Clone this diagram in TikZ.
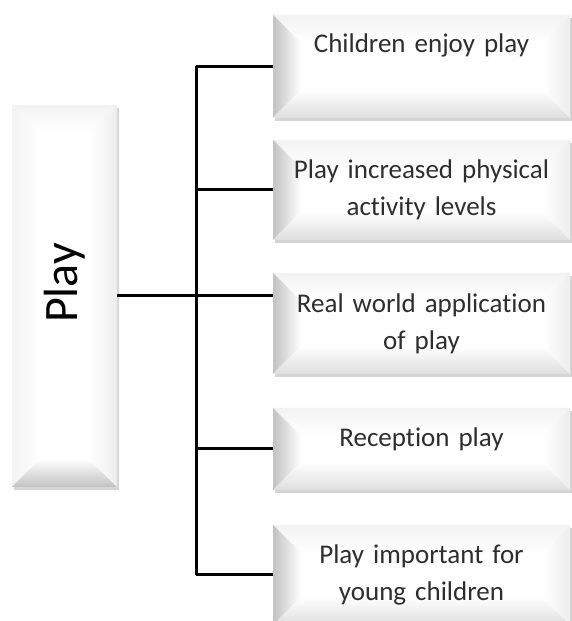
\documentclass[tikz,border=0pt]{standalone}
\usepackage{fontspec}
\setmainfont{Carlito}[Ligatures=NoCommon]
\usetikzlibrary{calc,shadows}

\newcommand\bevw{28pt}

\tikzset{
	bevel/.style n args={2}{fill=white, draw=none,
		drop shadow={shadow xshift=1.5pt, shadow yshift=-3pt, fill=black!30, opacity=.55},
		path picture={
			\path (path picture bounding box.south west) coordinate (pSW)
				(path picture bounding box.north east) coordinate (pNE);
			\shade[top color=black!5, bottom color=white] (pSW|-pNE) -- (pNE) -- ($(pNE)+(-\bevw,-\bevw)$) -- ($(pSW|-pNE)+(\bevw,-\bevw)$) -- cycle;
			\shade[left color=black!#1, right color=white] (pSW) -- (pSW|-pNE) -- ($(pSW|-pNE)+(\bevw,-\bevw)$) -- ($(pSW)+(\bevw,\bevw)$) -- cycle;
			\shade[top color=white, bottom color=black!#2] (pSW) -- ($(pSW)+(\bevw,\bevw)$) -- ($(pNE|-pSW)+(-\bevw,\bevw)$) -- (pNE|-pSW) -- cycle;
			\shade[left color=white, right color=black!7] (pNE|-pSW) -- ($(pNE|-pSW)+(-\bevw,\bevw)$) -- ($(pNE)+(-\bevw,-\bevw)$) -- (pNE) -- cycle;
		}},
	topic/.style={bevel={24}{13}, minimum width=297pt, text width=285pt, align=center,
		inner sep=0pt, text=black!82, font=\fontsize{27}{37}\selectfont},
	link/.style={line width=3pt}
}

\begin{document}
\begin{tikzpicture}[x=1pt,y=1pt]
	\useasboundingbox (0,0) rectangle (572,621);

	\node [bevel={5}{24}, minimum width=105pt, minimum height=382pt, inner sep=0pt,
		text=black, font=\fontsize{48}{50}\selectfont] (play) at (64.5,325) {\rotatebox{90}{\hspace{26pt}Play}};

	\node [topic, minimum height=103pt] (enjoy) at (421.5,554.5) {\raisebox{46pt}{Children enjoy play}};
	\node [topic, minimum height=100pt] (active) at (421.5,431) {Play increased physical\\activity levels};
	\node [topic, minimum height=101pt] (world) at (421.5,297.5) {Real world application\\of play};
	\node [topic, minimum height=82pt] (reception) at (421.5,172) {\raisebox{24pt}{Reception play}};
	\node [topic, minimum height=100pt] (young) at (421.5,46) {Play important for\\young children};

	\coordinate (trunk) at (196,0);

	\draw [link] (play.east) -- (play.east -| world.west);
	\draw [link] (enjoy.west -| trunk) -- (young.west -| trunk);
	\draw [link] (enjoy.west) -- (enjoy.west -| trunk);
	\draw [link] (active.west) -- (active.west -| trunk);
	\draw [link] (reception.west) -- (reception.west -| trunk);
	\draw [link] (young.west) -- (young.west -| trunk);
\end{tikzpicture}
\end{document}
